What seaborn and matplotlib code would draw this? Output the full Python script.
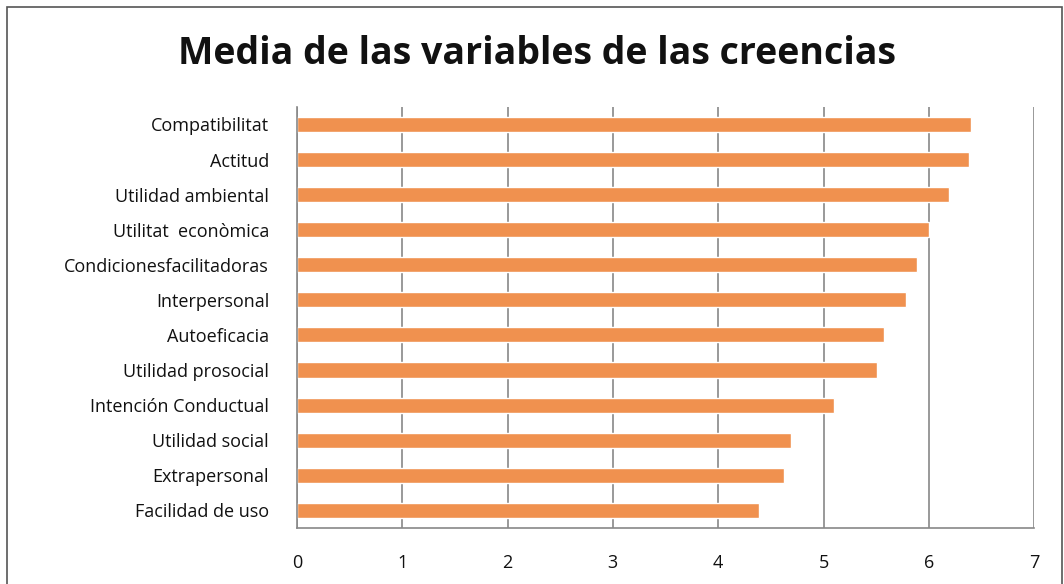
import numpy as np
import pandas as pd
import matplotlib
matplotlib.use("Agg")
import matplotlib.pyplot as plt
from matplotlib.patches import Rectangle
import seaborn as sns

# Mean scores per belief variable
variables = [
    "Compatibilitat", "Actitud", "Utilidad ambiental", "Utilitat  econòmica",
    "Condicionesfacilitadoras", "Interpersonal", "Autoeficacia",
    "Utilidad prosocial", "Intención Conductual", "Utilidad social",
    "Extrapersonal", "Facilidad de uso",
]
means = [6.40, 6.38, 6.19, 6.00, 5.89, 5.78, 5.57, 5.51, 5.10, 4.69, 4.62, 4.39]
x_ticks = [0, 1, 2, 3, 4, 5, 6, 7]

df = pd.DataFrame({"variable": variables, "media": means})

sns.set_style("white")
plt.rcParams["font.family"] = ["Open Sans", "DejaVu Sans"]

fig = plt.figure(figsize=(10.64, 5.84), dpi=100)
ax = fig.add_axes([0.279, 0.096, 0.693, 0.721])

sns.barplot(data=df, x="media", y="variable", color="#F0914F", saturation=1,
            width=0.43, ax=ax, orient="h")

ax.set_xlim(0, 7)
ax.set_ylim(len(variables) - 0.5, -0.5)
ax.set_xticks(x_ticks)
ax.set_xticklabels([str(t) for t in x_ticks], fontsize=13, color="#111111")
ax.set_yticks(range(len(variables)))
ax.set_yticklabels(variables, fontsize=13, color="#111111")
ax.set_yticks(np.arange(-0.5, len(variables), 1), minor=True)
ax.tick_params(axis="y", which="major", length=0, pad=20)
ax.tick_params(axis="y", which="minor", length=6, color="#888888", direction="out")
ax.tick_params(axis="x", which="major", length=6, color="#888888", direction="out", pad=13)
ax.set_xlabel("")
ax.set_ylabel("")

ax.grid(axis="x", color="#888888", linewidth=1.2)
ax.set_axisbelow(True)
for side in ["top", "right"]:
    ax.spines[side].set_visible(False)
for side in ["left", "bottom"]:
    ax.spines[side].set_color("#888888")
    ax.spines[side].set_linewidth(1.2)

fig.suptitle("Media de las variables de las creencias", fontsize=27,
             fontweight="bold", y=0.94, x=0.505, color="#111111")

# outer frame of the chart
fig.patches.append(Rectangle((0.007, -0.02), 0.991, 1.008, transform=fig.transFigure,
                             fill=False, edgecolor="#555555", linewidth=1.2))

fig.savefig("out.png", dpi=100)
